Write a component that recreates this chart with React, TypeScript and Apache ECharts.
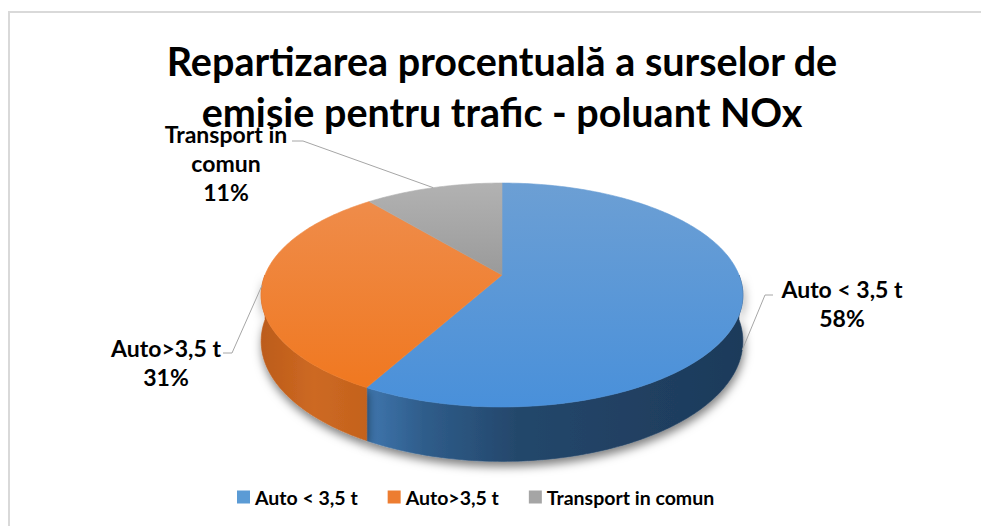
import React, { useEffect, useRef } from 'react';
import * as echarts from 'echarts';

// ---------- data ----------
const categories = ['Auto < 3,5 t', 'Auto>3,5 t', 'Transport in comun'];
const values = [58, 31, 11];
const sliceLabels = ['Auto < 3,5 t', 'Auto>3,5 t', 'Transport in\ncomun'];
const titleLines = ['Repartizarea procentuală a surselor de', 'emisie pentru trafic - poluant NOx'];

// ---------- styles / layout ----------
const palette = ['#5B9BD5', '#ED7D31', '#A5A5A5'];
const topStops = [
  ['#6C9FD4', '#4990DA'],
  ['#EF8C4A', '#F07820'],
  ['#B2B2B2', '#9A9A9A'],
];
const sideStops = [
  [[0, '#3F76AE'], [0.15, '#2F5D8B'], [0.4, '#24476B'], [1, '#1D3A5A']],
  [[0, '#BC5C1B'], [0.5, '#CD6922'], [1, '#C4621D']],
  [[0, '#7F7F7F'], [1, '#6F6F6F']],
];
const labelLayout = [
  { x: 842, y: 303, start: [773, 295], elbow: [765, 295], drop: 1 },
  { x: 166, y: 362, start: [223, 353], elbow: [232, 353], drop: 0 },
  { x: 226, y: 163, start: [292, 141], elbow: [303, 141], drop: 0 },
];

// perspective disc geometry
const CX = 502;
const CY = 275;
const RA = 237;
const RB = 108.4;
const K = 0.1786;
const H = 44.7;

const total = values.reduce((a, b) => a + b, 0);

function proj(deg: number) {
  const t = (deg * Math.PI) / 180;
  const u = Math.sin(t);
  const v = Math.cos(t);
  const w = 1 + K * v;
  return { x: CX + (RA * u) / w, y: CY - (RB * v) / w, d: H / w };
}

function arc(a: number, b: number) {
  const pts: number[][] = [];
  const n = Math.max(2, Math.ceil((b - a) / 1));
  for (let i = 0; i <= n; i++) {
    const p = proj(a + ((b - a) * i) / n);
    pts.push([p.x, p.y, p.d]);
  }
  return pts;
}

function makeRender(idx: number) {
  return (params: any, api: any) => {
    const before = values.slice(0, idx).reduce((a, b) => a + b, 0);
    const val = api.value(0);
    const a = (before / total) * 360;
    const b = ((before + val) / total) * 360;
    const children: any[] = [];

    // side wall (front part only)
    const sa = Math.max(a, 90);
    const sb = Math.min(b, 270);
    if (sb > sa) {
      const top = arc(sa, sb);
      const bottom = top.slice().reverse().map((p) => [p[0], p[1] + p[2]]);
      const pts = top.map((p) => [p[0], p[1]]).concat(bottom);
      const grad = new echarts.graphic.LinearGradient(
        0, 0, 1, 0,
        sideStops[idx].map((s: any) => ({ offset: s[0], color: s[1] }))
      );
      children.push({
        type: 'polygon',
        z2: 1,
        shape: { points: pts },
        style: {
          fill: grad,
          stroke: grad,
          lineWidth: 0.6,
          shadowBlur: 10,
          shadowColor: 'rgba(0,0,0,0.5)',
          shadowOffsetX: 1,
          shadowOffsetY: 5,
        },
      });
    }

    // top face
    const tpts = [[CX, CY]].concat(arc(a, b).map((p) => [p[0], p[1]]));
    const tgrad = new echarts.graphic.LinearGradient(0, 0, 0, 1, [
      { offset: 0, color: topStops[idx][0] },
      { offset: 1, color: topStops[idx][1] },
    ]);
    children.push({
      type: 'polygon',
      z2: 5,
      shape: { points: tpts },
      style: { fill: tgrad, stroke: tgrad, lineWidth: 0.6 },
    });

    // leader line
    const L = labelLayout[idx];
    const mid = proj((a + b) / 2);
    const anchor = [mid.x, mid.y + mid.d * L.drop];
    children.push({
      type: 'polyline',
      z2: 8,
      shape: { points: [L.start, L.elbow, anchor] },
      style: { stroke: '#A6A6A6', lineWidth: 1, fill: null },
    });

    // label
    const pct = Math.round((val / total) * 100) + '%';
    children.push({
      type: 'text',
      z2: 9,
      style: {
        text: sliceLabels[idx] + '\n' + pct,
        x: L.x,
        y: L.y,
        align: 'center',
        verticalAlign: 'middle',
        fontFamily: 'Lato',
        fontWeight: 'bold',
        fontSize: 23,
        lineHeight: 29,
        fill: '#000',
      },
    });

    return { type: 'group', children };
  };
}

export default function App() {
  const ref = useRef<HTMLDivElement>(null);
  useEffect(() => {
    if (!ref.current) return;
    const chart = echarts.init(ref.current, undefined, { renderer: 'svg' });
    chart.setOption({
      animation: false,
      backgroundColor: '#ffffff',
      color: palette,
      legend: {
        data: categories,
        left: 237,
        top: 487,
        padding: 0,
        icon: 'rect',
        itemWidth: 13,
        itemHeight: 13,
        itemGap: 30,
        selectedMode: false,
        textStyle: { fontFamily: 'Lato', fontWeight: 'bold', fontSize: 19.5, color: '#000' },
      },
      graphic: [
        {
          type: 'rect',
          shape: { x: 9, y: 12, width: 1000, height: 600 },
          style: { fill: 'none', stroke: '#D9D9D9', lineWidth: 2 },
          silent: true,
        },
        {
          type: 'text',
          silent: true,
          style: {
            text: titleLines.join('\n'),
            x: 502,
            y: 86,
            align: 'center',
            verticalAlign: 'middle',
            fontFamily: 'Lato',
            fontWeight: 'bold',
            fontSize: 39.5,
            lineHeight: 51,
            fill: '#000',
          },
        },
      ],
      series: categories.map((name, i) => ({
        type: 'custom',
        name,
        coordinateSystem: 'none',
        silent: true,
        itemStyle: { color: palette[i] },
        data: [values[i]],
        renderItem: makeRender(i),
      })),
    });
    return () => chart.dispose();
  }, []);
  return (
    <div
      ref={ref}
      style={{ position: 'fixed', left: 0, top: 0, width: 981, height: 526 }}
    />
  );
}
